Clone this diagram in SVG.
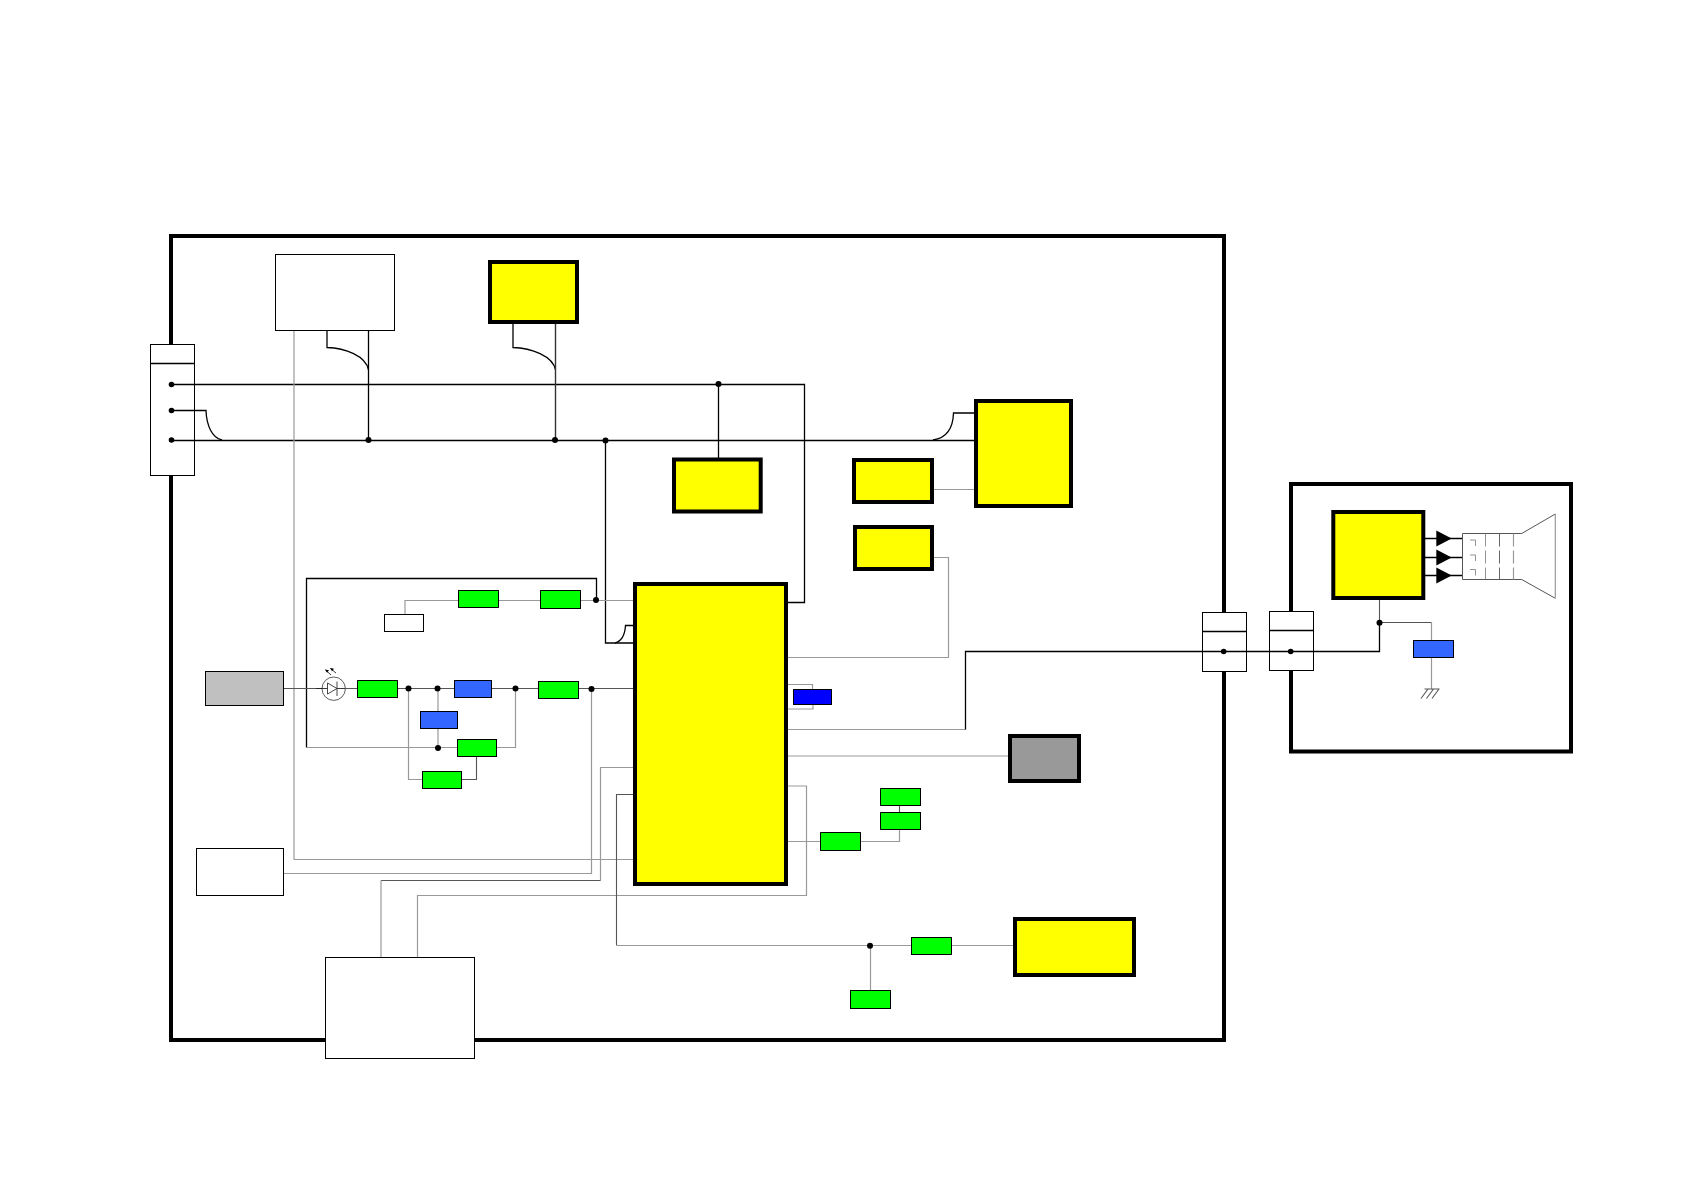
<svg xmlns="http://www.w3.org/2000/svg" width="1684" height="1190" viewBox="0 0 1684 1190">
<style>
.frame{fill:none;stroke:#000;stroke-width:4}
.y{fill:#ff0;stroke:#000;stroke-width:4}
.w{fill:#fff;stroke:#000;stroke-width:1}
.g{fill:#0f0;stroke:#000;stroke-width:1}
.b{fill:#36f;stroke:#000;stroke-width:1}
.k{fill:none;stroke:#000;stroke-width:1.3}
.d{fill:none;stroke:#555;stroke-width:1.1}
.l{fill:none;stroke:#999;stroke-width:1.2}
.t{fill:none;stroke:#777;stroke-width:.8}
.dot{fill:#000}
</style>
<rect width="1684" height="1190" fill="#fff"/>
<g id="frames">
<rect class="frame" x="171" y="236" width="1053" height="804"/>
<rect class="frame" x="1291" y="484" width="280" height="267.500"/>
</g>
<g id="connectors">
<path class="k" d="M171.500 384.500H804.500V602.500H786"/>
<path class="k" d="M171.500 440.500H975"/>
<path class="k" d="M171.500 410.500H206C206.500 425 212 438 222 440"/>
<path class="k" d="M327 330V347.500C345 348 366 356 368.500 370"/>
<path class="k" d="M368.500 330V440"/>
<path class="k" d="M513 322V347.500C531 348 553 356 555.500 370"/>
<path fill="none" stroke="#333" stroke-width="1.400" d="M555.500 322V440"/>
<path class="k" d="M718.500 384V458"/>
<path class="k" d="M605.500 440V643H634"/>
<path class="k" d="M634 625.500H625.500C625 634 622 641 615 643"/>
<path class="k" d="M975 413H953.500C953 428 947 438 933 440"/>
<path class="l" d="M933 489.500H975"/>
<path class="l" d="M933 557.500H948.500V657.500H787"/>
<path class="l" d="M294 330V859.500H634"/>
<path class="k" d="M306.500 747.500V578.500H596.500V600"/>
<path class="l" d="M306.500 747.500H457"/>
<path class="l" d="M496 747.500H515.500V688.500"/>
<path class="l" d="M405 614V600.500H458"/>
<path class="l" d="M498 600.500H540"/>
<path class="l" d="M581 600.500H634"/>
<path class="d" d="M284 688.500H357"/>
<path class="d" d="M398 688.500H454"/>
<path class="d" d="M492 688.500H538"/>
<path class="d" d="M579 688.500H634"/>
<path class="l" d="M438 688.500V748"/>
<path class="l" d="M408.500 688.500V779.500H422"/>
<path class="d" d="M462 779.500H476.500V756"/>
<path class="l" d="M284 873.500H591.500V688.500"/>
<path class="l" d="M634 767.500H600.500V880.500"/>
<path class="d" d="M600.500 880.500H381"/>
<path class="l" d="M381 880.500V957"/>
<path class="l" d="M417.500 957V895.500H806.500V786H787"/>
<path class="d" d="M634 794.500H616.500V945.500"/>
<path class="l" d="M616.500 945.500H1014"/>
<path class="l" d="M870.500 945.500V990"/>
<path class="l" d="M787 729.500H965.500"/>
<path class="k" d="M965.500 729.500V651.500H1379.500V622.500"/>
<path class="d" d="M1379.500 622.500V599"/>
<path class="l" d="M787 756H1009"/>
<path class="l" d="M787 684.500H812.500V689"/>
<path class="l" d="M787 709H813V705"/>
<path class="l" d="M787 841.500H820"/>
<path class="l" d="M861 841.500H899.500V830"/>
<path class="d" d="M899.500 806V812"/>
<path class="d" d="M1379.500 622.500H1431.500"/>
<path class="l" d="M1431.500 622.500V640"/>
<path class="l" d="M1431.500 658V689"/>
<path class="k" d="M1425 538.500H1462.500M1425 557.500H1462.500M1425 575.500H1462.500"/>
</g>
<g id="junctions">
<circle class="dot" cx="368.500" cy="440" r="3"/>
<circle class="dot" cx="555" cy="440" r="3"/>
<circle class="dot" cx="605.500" cy="440.500" r="3"/>
<circle class="dot" cx="718.500" cy="384" r="3"/>
<circle class="dot" cx="596" cy="600" r="3"/>
<circle class="dot" cx="408.500" cy="688.500" r="3"/>
<circle class="dot" cx="437.500" cy="688.500" r="3"/>
<circle class="dot" cx="515.500" cy="688.500" r="3"/>
<circle class="dot" cx="591.500" cy="689" r="3"/>
<circle class="dot" cx="438" cy="748" r="3"/>
<circle class="dot" cx="870" cy="945.700" r="3"/>
<circle class="dot" cx="1379.500" cy="622.700" r="3"/>
</g>
<g id="conn-left"><rect class="w" x="150.500" y="344.500" width="44" height="131"/><path class="k" d="M150.500 363.500H194.500"/><path class="k" d="M171.500 384.500H194.500M171.500 410.500H194.500M171.500 440.500H194.500"/><circle class="dot" cx="171.500" cy="384.500" r="2.800"/><circle class="dot" cx="171.500" cy="410.500" r="2.800"/><circle class="dot" cx="171.500" cy="440" r="2.800"/></g>
<g id="box-top"><rect class="w" x="275.500" y="254.500" width="119" height="76"/></g>
<g id="yellow-top"><rect class="y" x="490" y="262" width="87" height="60"/></g>
<g id="yellow-center"><rect class="y" x="674" y="459.500" width="86.700" height="52"/></g>
<g id="yellow-big"><rect class="y" x="976" y="401" width="95" height="105"/></g>
<g id="yellow-a"><rect class="y" x="854" y="460" width="78" height="42"/></g>
<g id="yellow-b"><rect class="y" x="855" y="527" width="77" height="42"/></g>
<g id="main"><rect class="y" x="635" y="584" width="151" height="300"/></g>
<g id="yellow-bottom"><rect class="y" x="1015" y="919" width="119" height="56"/></g>
<g id="grey-dark"><rect x="1010" y="736" width="69" height="45" fill="#999" stroke="#000" stroke-width="4"/></g>
<g id="grey-light"><rect x="205.500" y="671.500" width="78" height="34" fill="#c0c0c0" stroke="#000" stroke-width="1"/></g>
<g id="box-small"><rect class="w" x="384.500" y="614.500" width="39" height="17"/></g>
<g id="box-left"><rect class="w" x="196.500" y="848.500" width="87" height="47"/></g>
<g id="box-bottom"><rect class="w" x="325.500" y="957.500" width="149" height="101"/></g>
<g id="led">
<circle cx="333.700" cy="688.700" r="11.700" fill="#fff" stroke="#333" stroke-width=".8"/>
<path d="M316 688.500H327.500M337 688.500H345" fill="none" stroke="#222" stroke-width=".9"/>
<path d="M327.500 683L337 688.500L327.500 694Z M337 681.500V696" fill="none" stroke="#333" stroke-width=".9"/>
<path d="M331 675L325.500 670M336 673L330.500 668.500" fill="none" stroke="#222" stroke-width=".9"/>
<path d="M325 669.500l4 .8l-2 2.400ZM330 668l4 .8l-2 2.400Z" fill="#000"/>
</g>
<g id="g1"><rect class="g" x="458.500" y="590.500" width="40" height="17"/></g>
<g id="g2"><rect class="g" x="540.500" y="590.500" width="40" height="18"/></g>
<g id="g3"><rect class="g" x="357.500" y="680.500" width="40" height="17"/></g>
<g id="g4"><rect class="g" x="538.500" y="681.500" width="40" height="17"/></g>
<g id="g5"><rect class="g" x="457.500" y="739.500" width="39" height="17"/></g>
<g id="g6"><rect class="g" x="422.500" y="771.500" width="39" height="17"/></g>
<g id="g7"><rect class="g" x="880.500" y="788.500" width="40" height="17"/></g>
<g id="g8"><rect class="g" x="880.500" y="812.500" width="40" height="17"/></g>
<g id="g9"><rect class="g" x="820.500" y="832.500" width="40" height="18"/></g>
<g id="g10"><rect class="g" x="911.500" y="937.500" width="40" height="17"/></g>
<g id="g11"><rect class="g" x="850.500" y="990.500" width="40" height="18"/></g>
<g id="b1"><rect class="b" x="454.500" y="680.500" width="37" height="17"/></g>
<g id="b2"><rect class="b" x="420.500" y="711.500" width="37" height="17"/></g>
<g id="b3"><rect class="b" x="1413.500" y="640.500" width="40" height="17"/></g>
<g id="b4"><rect x="793.500" y="689.500" width="38" height="15" fill="#00f" stroke="#000" stroke-width="1"/></g>
<g id="conn-mid"><rect class="w" x="1202.500" y="612.500" width="44" height="59"/><path class="k" d="M1202.500 631.500H1246.500M1202.500 651.500H1246.500"/><circle class="dot" cx="1223.700" cy="651.500" r="2.800"/></g>
<g id="conn-right"><rect class="w" x="1269.500" y="611.500" width="44" height="59"/><path class="k" d="M1269.500 630.500H1313.500M1269.500 651.500H1313.500"/><circle class="dot" cx="1290.700" cy="651.500" r="2.800"/></g>
<g id="yellow-right"><rect class="y" x="1333.300" y="512" width="90" height="86"/></g>
<g id="crt">
<path d="M1462.500 579.500V533.500H1521.700L1555.300 514" fill="none" stroke="#555" stroke-width="1"/>
<path d="M1462.500 579.500H1521.700L1555.300 598.300" fill="none" stroke="#555" stroke-width="1"/>
<path class="l" d="M1555.300 514V598.300"/>
<path class="t" stroke-dasharray="13 4" d="M1485.500 533.500V579.500"/>
<path d="M1499.500 533.500V579.500" fill="none" stroke="#555" stroke-width=".9" stroke-dasharray="13 4"/>
<path class="l" stroke-dasharray="13 4" d="M1513.500 533.500V579.500"/>
<path class="t" d="M1470 540H1475.500V546M1470 555H1475.500V561M1470 569.500H1475.500V575.500"/>
<path class="dot" d="M1436.300 530.500L1451.700 538.500L1436.300 546.500Z"/>
<path class="dot" d="M1436.300 549.500L1451.700 557.500L1436.300 565.500Z"/>
<path class="dot" d="M1436.300 567.500L1451.700 575.500L1436.300 583.500Z"/>
</g>
<g id="ground"><path class="d" d="M1424.500 689H1439.500M1428 689L1421 698.500M1433.500 689L1426.500 698.500M1439 689L1432 698.500" stroke-width=".8"/></g>
</svg>
